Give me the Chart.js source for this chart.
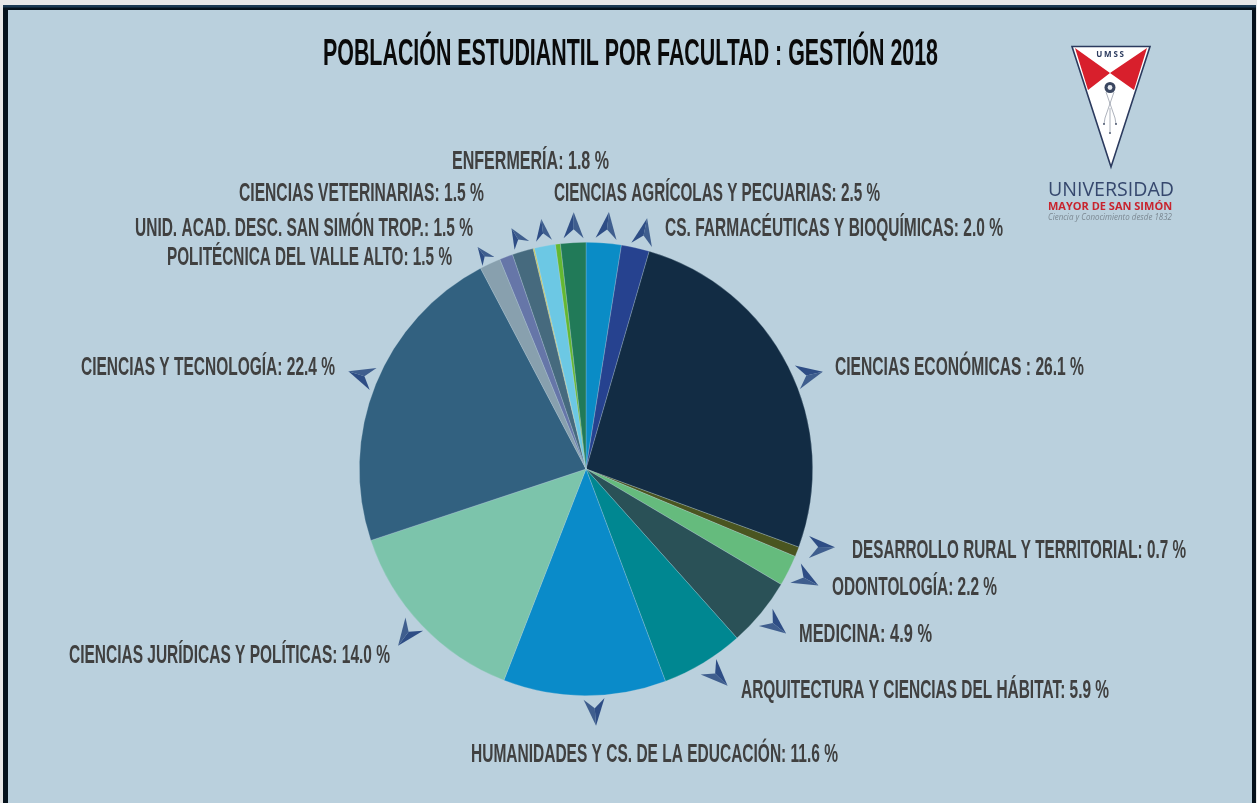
<!DOCTYPE html>
<html lang="es">
<head>
<meta charset="utf-8">
<title>Población estudiantil por facultad</title>
<script src="https://cdn.jsdelivr.net/npm/chart.js@4/dist/chart.umd.min.js"></script>
<style>
html,body{margin:0;padding:0;background:#e8e8e8;overflow:hidden}
canvas{display:block}
</style>
</head>
<body>
<canvas id="c" width="1257" height="803"></canvas>
<script>
// ---------- data ----------
const titleText = 'POBLACIÓN ESTUDIANTIL POR FACULTAD : GESTIÓN 2018';
const categories = [
  'CIENCIAS AGRÍCOLAS Y PECUARIAS','CS. FARMACÉUTICAS Y BIOQUÍMICAS','CIENCIAS ECONÓMICAS ',
  'DESARROLLO RURAL Y TERRITORIAL','ODONTOLOGÍA','MEDICINA','ARQUITECTURA Y CIENCIAS DEL HÁBITAT',
  'HUMANIDADES Y CS. DE LA EDUCACIÓN','CIENCIAS JURÍDICAS Y POLÍTICAS','CIENCIAS Y TECNOLOGÍA',
  'POLITÉCNICA DEL VALLE ALTO','','UNID. ACAD. DESC. SAN SIMÓN TROP.','',
  'CIENCIAS VETERINARIAS','','ENFERMERÍA'
];
const values = [2.5,2.0,26.1,0.7,2.2,4.9,5.9,11.6,14.0,22.4,1.5,0.95,1.5,0.1,1.5,0.35,1.8];
const sliceColors = ['#0a8cc6','#26428f','#122c44','#4a5520','#65bb7d','#2a5157','#008791','#0a8bc9','#7cc4ab','#326180','#88a0ae','#6676a8','#466a7e','#c8c850','#6cc8e4','#64b832','#217a58'];

// ---------- annotation layout (same order as categories; null = no label) ----------
// label: [left, right, centreY]
const labelBoxes = [
  [554,880,193.5],[665,1003,228.5],[835,1084,367.5],[852,1186,550.5],[832,997,587.5],[799,932,634.5],[741,1109,690.5],
  [471,838,754.5],[69,390,655.5],[81,335,367.5],[167,452,257.5],null,[135,473,228.5],null,[239,484,193.5],null,[452,609,161.5]
];
// arrow: [tip radius, angle tweak from slice middle, heading relative to radial, length, width]
const arrowSpecs = [
  [258,0.6,1,27,21],[258,1.1,-2,27,21],[256,4.5,10,26,24],[261,-4,-17,26,22],[260,0,2,26,22],[259,0,-1,26,22],[259,-2,-12,27,22],
  [257,-2.6,-2,27,21],[258,0.3,-10,27,22],[257,0.4,-5,26,23],[247,-1,-11,18,15],null,[252,-1,-14,20,17],null,[254,0.3,3,22,16],null,[257,0.5,3,26,20]
];

const frame = {
  paint(ctx){
    ctx.save();
    ctx.fillStyle='#e8e8e8'; ctx.fillRect(0,0,1257,803);
    ctx.fillStyle='#06121c'; ctx.fillRect(3,5,1253,798);
    ctx.fillStyle='#1d3b54'; ctx.fillRect(3,5,1253,2.5);
    ctx.fillStyle='#bad0dd'; ctx.fillRect(8,10,1244,793);
    ctx.restore();
  }
};

function fitText(ctx,text,left,right,cy,font,color){
  ctx.font=font; ctx.fillStyle=color; ctx.textAlign='left'; ctx.textBaseline='middle';
  ctx.fillText(text,left,cy,right-left);
}

function drawLogo(ctx){
  ctx.save();
  ctx.beginPath(); ctx.moveTo(1072,46.5); ctx.lineTo(1150,46.5); ctx.lineTo(1111,167); ctx.closePath();
  ctx.fillStyle='#ffffff'; ctx.fill();
  ctx.lineWidth=1.6; ctx.strokeStyle='#2b3a5e'; ctx.lineJoin='miter'; ctx.stroke();
  ctx.fillStyle='#d81f2c';
  ctx.beginPath(); ctx.moveTo(1075,48); ctx.lineTo(1110,73); ctx.lineTo(1147,48); ctx.lineTo(1134,90); ctx.lineTo(1110,73); ctx.lineTo(1088,90); ctx.closePath(); ctx.fill();
  ctx.textAlign='center'; ctx.textBaseline='middle';
  ctx.fillStyle='#2b3a5e'; ctx.font='bold 8px "Open Sans"'; ctx.letterSpacing='1.8px'; ctx.fillText('UMSS',1111,54.5); ctx.letterSpacing='0px';
  ctx.strokeStyle='#5a6478'; ctx.lineWidth=0.5;
  ctx.beginPath(); ctx.moveTo(1106,92); ctx.lineTo(1115,118); ctx.lineTo(1116,124); ctx.moveTo(1114,92); ctx.lineTo(1105,118); ctx.lineTo(1104,124); ctx.moveTo(1110,108); ctx.lineTo(1110,132); ctx.stroke();
  ctx.fillStyle='#3a4660';
  ctx.beginPath(); ctx.arc(1110,87.5,5.5,0,Math.PI*2); ctx.fill();
  ctx.fillStyle='#e8ecf2';
  ctx.beginPath(); ctx.arc(1110,87.5,2.4,0,Math.PI*2); ctx.fill();
  ctx.fillStyle='#3a4660';
  [[1104,124],[1116,124],[1110,133]].forEach(p=>{ctx.beginPath(); ctx.arc(p[0],p[1],0.9,0,Math.PI*2); ctx.fill();});
  fitText(ctx,'UNIVERSIDAD',1048,1174,190,'20px "Open Sans"','#36486e');
  fitText(ctx,'MAYOR DE SAN SIMÓN',1048,1174,207,'bold 11px "Open Sans"','#c8242e');
  fitText(ctx,'Ciencia y Conocimiento desde 1832',1048,1172,218,'italic 8.5px "Open Sans"','#7b8892');
  ctx.restore();
}

function drawArrow(ctx,tx,ty,h,len,w){
  const fx=Math.sin(h), fy=-Math.cos(h), rx=Math.cos(h), ry=Math.sin(h);
  const nx=tx-fx*len*0.65, ny=ty-fy*len*0.65;
  const lx=tx-fx*len-rx*w/2, ly=ty-fy*len-ry*w/2;
  const bx=tx-fx*len+rx*w/2, by=ty-fy*len+ry*w/2;
  ctx.fillStyle='#2e4d85';
  ctx.beginPath(); ctx.moveTo(tx,ty); ctx.lineTo(lx,ly); ctx.lineTo(nx,ny); ctx.closePath(); ctx.fill();
  ctx.fillStyle='#3f5e8e';
  ctx.beginPath(); ctx.moveTo(tx,ty); ctx.lineTo(bx,by); ctx.lineTo(nx,ny); ctx.closePath(); ctx.fill();
}

const annotations = {
  id:'annotations',
  beforeDraw(chart){ frame.paint(chart.ctx); },
  afterDraw(chart){
    const ctx=chart.ctx, arcs=chart.getDatasetMeta(0).data;
    ctx.save();
    fitText(ctx,titleText,323,938,54.5,'bold 37px "Liberation Sans Narrow","Liberation Sans"','#0a0a0a');
    categories.forEach((name,i)=>{
      const box=labelBoxes[i], spec=arrowSpecs[i];
      if(box) fitText(ctx,`${name}: ${values[i].toFixed(1)} %`,box[0],box[1],box[2],'bold 26px "Liberation Sans Narrow","Liberation Sans"','#404040');
      if(spec){
        const a=arcs[i], mid=(a.startAngle+a.endAngle)/2+spec[1]*Math.PI/180;
        const tx=a.x+Math.cos(mid)*spec[0], ty=a.y+Math.sin(mid)*spec[0];
        drawArrow(ctx,tx,ty,mid+Math.PI/2+spec[2]*Math.PI/180,spec[3],spec[4]);
      }
    });
    drawLogo(ctx);
    ctx.restore();
  }
};

new Chart(document.getElementById('c'),{
  type:'pie',
  data:{labels:categories,datasets:[{data:values,backgroundColor:sliceColors,borderColor:'rgba(190,215,225,0.45)',borderWidth:0.6}]},
  options:{
    responsive:false,animation:false,
    layout:{padding:{left:359,right:444,top:242,bottom:107}},
    plugins:{legend:{display:false},tooltip:{enabled:false},title:{display:false}}
  },
  plugins:[annotations]
});
</script>
</body>
</html>
